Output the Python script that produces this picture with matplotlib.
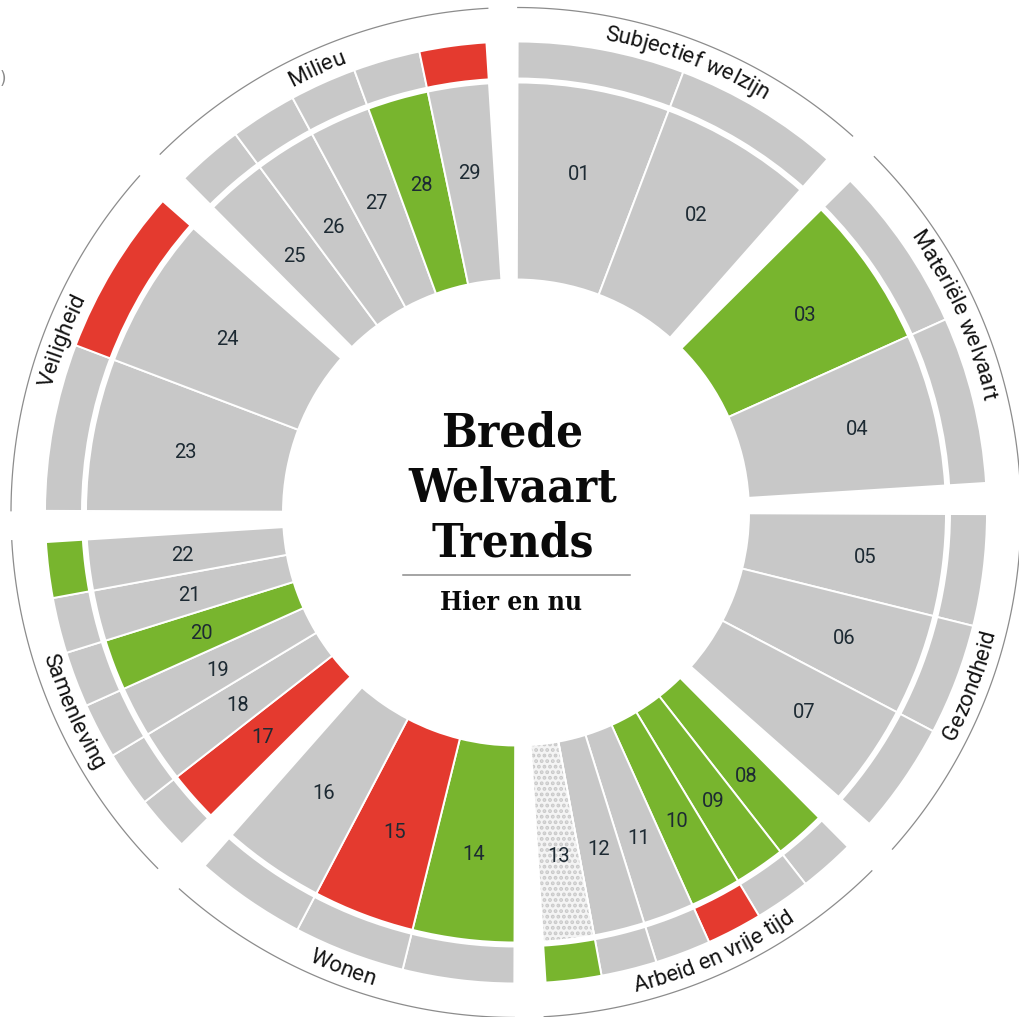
import numpy as np
import matplotlib
import matplotlib.pyplot as plt
from matplotlib import font_manager
from matplotlib.lines import Line2D

matplotlib.rcParams['hatch.linewidth'] = 1.9

# canvas and ring geometry (pixels)
W, H = 1019, 1017
CX, CY = 516, 512.5
R_AX = 520
R_IN, R_MID = 234, 429
R_BAND0, R_BAND1 = 435, 470
R_ARC = 505
SECTOR = 45.0
OFFSET = 0.2
SPAN = 41.2

# data
themes = ["Subjectief welzijn", "Materiële welvaart", "Gezondheid",
          "Arbeid en vrije tijd", "Wonen", "Samenleving", "Veiligheid", "Milieu"]
n_items = [2, 2, 3, 6, 3, 6, 2, 5]
item_labels = ["%02d" % i for i in range(1, 30)]

# trend per indicator, inner ring ("Hier en nu")
inner_trend = ["grey", "grey",
               "green", "grey",
               "grey", "grey", "grey",
               "green", "green", "green", "grey", "grey", "nodata",
               "green", "red", "grey",
               "red", "grey", "grey", "green", "grey", "grey",
               "grey", "grey",
               "grey", "grey", "grey", "green", "grey"]
# trend per indicator, outer band
outer_trend = ["grey", "grey",
               "grey", "grey",
               "grey", "grey", "grey",
               "grey", "grey", "red", "grey", "grey", "green",
               "grey", "grey", "grey",
               "grey", "grey", "grey", "grey", "grey", "green",
               "grey", "red",
               "grey", "grey", "grey", "grey", "red"]

palette = {"grey": "#c8c8c8", "green": "#78b52e", "red": "#e43a2f",
           "nodata": "#f4f4f4"}

# angular layout of indicators
starts, widths = [], []
for k, n in enumerate(n_items):
    w = np.radians(SPAN) / n
    for j in range(n):
        starts.append(np.radians(k * SECTOR + OFFSET) + j * w)
        widths.append(w)
starts = np.array(starts)
widths = np.array(widths)
theta = starts + widths / 2

fig = plt.figure(figsize=(W / 100, H / 100), dpi=100)
ax = fig.add_axes([(CX - R_AX) / W, (H - CY - R_AX) / H, 2 * R_AX / W, 2 * R_AX / H],
                  projection='polar')
ax.set_theta_zero_location('N')
ax.set_theta_direction(-1)
ax.set_ylim(0, R_AX)
ax.set_axis_off()

lw_sep = 1.4
inner_cols = [palette[t] for t in inner_trend]
outer_cols = [palette[t] for t in outer_trend]
ax.bar(theta, R_MID - R_IN + 2, width=widths, bottom=R_IN - 1, color=inner_cols,
       edgecolor='white', linewidth=lw_sep, align='center')
ax.bar(theta, R_BAND1 - R_BAND0 + 2, width=widths, bottom=R_BAND0 - 1, color=outer_cols,
       edgecolor='white', linewidth=lw_sep, align='center')

# indicator without data gets a dotted fill
nd = [i for i, t in enumerate(inner_trend) if t == "nodata"]
ax.bar(theta[nd], R_MID - R_IN + 2, width=widths[nd], bottom=R_IN - 1,
       color=palette["nodata"], edgecolor='#c9c9c9', linewidth=0, hatch='...')
ax.bar(theta[nd], R_MID - R_IN + 2, width=widths[nd], bottom=R_IN - 1,
       facecolor='none', edgecolor='white', linewidth=lw_sep)

# number labels sit a little further out on the right than on the left
r_num = 344 + 7.8 * np.sin(theta) + 0.5 * np.cos(theta)
for t, r, lab in zip(theta, r_num, item_labels):
    ax.annotate(lab, (t, r), xytext=(0, -1.3), textcoords='offset points',
                ha='center', va='center', fontsize=14.5, family='Roboto',
                color='#1d2a33')

# theme arcs and curved theme names
renderer = fig.canvas.get_renderer()
fp = font_manager.FontProperties(family='Roboto', size=16)


def text_width(s):
    return renderer.get_text_width_height_descent(s, fp, ismath=False)[0]


for k, name in enumerate(themes):
    t = np.radians(np.linspace(k * SECTOR + OFFSET, k * SECTOR + 41.8, 120))
    ax.plot(t, np.full_like(t, R_ARC), color='#8c8c8c', lw=0.9)

    mid = k * SECTOR + OFFSET + SPAN / 2
    upper = mid < 90 or mid > 270
    ref = text_width('II')
    pre = [text_width('I' + name[:i] + 'I') - ref for i in range(len(name) + 1)]
    total = pre[-1]
    r_base = 481 if upper else 494
    for i, ch in enumerate(name):
        if ch == ' ':
            continue
        s = (pre[i] + pre[i + 1]) / 2 - total / 2
        if upper:
            ang = mid + np.degrees(s / r_base)
            rot = -ang
        else:
            ang = mid - np.degrees(s / r_base)
            rot = 180 - ang
        ax.text(np.radians(ang), r_base, ch, rotation=rot, rotation_mode='anchor',
                ha='center', va='baseline', fontproperties=fp, color='#141414')

# centre title
title_fp = font_manager.FontProperties(family='DejaVu Serif', weight='bold',
                                       stretch='condensed')
if 'Condensed' in font_manager.findfont(title_fp):
    big, small = 34, 19
else:
    title_fp = font_manager.FontProperties(family='DejaVu Serif', weight='bold')
    big, small = 30, 17

for word, yb in zip(["Brede", "Welvaart", "Trends"], [446.7, 501.7, 556.7]):
    fig.text(512.5 / W, 1 - yb / H, word, ha='center', va='baseline',
             fontproperties=title_fp, fontsize=big, color='#0a0a0a')
fig.add_artist(Line2D([403 / W, 630 / W], [1 - 575 / H] * 2, transform=fig.transFigure,
                      color='#8c8c8c', lw=1.1))
fig.text(511.5 / W, 1 - 610 / H, "Hier en nu", ha='center', va='baseline',
         fontproperties=title_fp, fontsize=small, color='#0a0a0a')

# remnant of a neighbouring element at the left edge
fig.text(0.0, 1 - 79 / H, ")", ha='left', va='center', fontsize=12,
         color='#8a8a8a')

fig.savefig("out.png", dpi=100)
